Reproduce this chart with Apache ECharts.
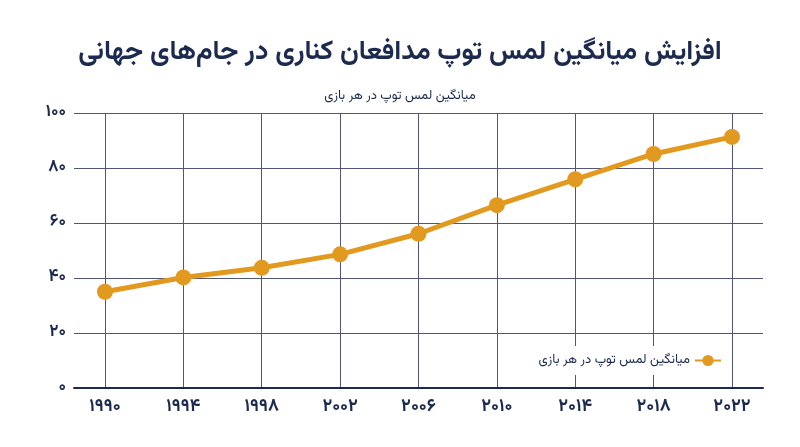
<!DOCTYPE html>
<html>
<head>
<meta charset="utf-8">
<script src="https://cdn.jsdelivr.net/npm/echarts@6/dist/echarts.min.js"></script>
<style>
html,body{margin:0;padding:0;background:#fff;}
#c{width:800px;height:447px;}
</style>
</head>
<body>
<div id="c"></div>
<script>
var years = [1990, 1994, 1998, 2002, 2006, 2010, 2014, 2018, 2022];
var yearLabels = ['۱۹۹۰','۱۹۹۴','۱۹۹۸','۲۰۰۲','۲۰۰۶','۲۰۱۰','۲۰۱۴','۲۰۱۸','۲۰۲۲'];
var touches = [35, 40.2, 43.7, 48.6, 56.1, 66.5, 75.9, 85.1, 91.3];
var yTicks = [0, 20, 40, 60, 80, 100];
var yTickLabels = ['۰','۲۰','۴۰','۶۰','۸۰','۱۰۰'];
var seriesName = 'میانگین لمس توپ در هر بازی';
var titleText = 'افزایش میانگین لمس توپ مدافعان کناری در جام‌های جهانی';
var subtitleText = 'میانگین لمس توپ در هر بازی';

var FONT = "Vazirmatn, 'Noto Sans Arabic', 'Noto Naskh Arabic', 'DejaVu Sans', sans-serif";
var NAVY = '#1b2a4e';
var ORANGE = '#e2991f';

var chart = echarts.init(document.getElementById('c'));
var data = years.map(function (y, i) { return [y, touches[i]]; });
chart.setOption({
  backgroundColor: '#fff',
  textStyle: { fontFamily: FONT },
  title: [{
    text: titleText,
    left: 'center', top: 36,
    textStyle: { fontFamily: FONT, fontSize: 27, fontWeight: 'bold', color: NAVY }
  }, {
    text: subtitleText,
    left: 'center', top: 85,
    textStyle: { fontFamily: FONT, fontSize: 13, fontWeight: 'normal', color: NAVY }
  }],
  legend: {
    right: 72, top: 346,
    align: 'right',
    backgroundColor: '#fff',
    padding: [8, 6, 8, 10],
    itemWidth: 26, itemHeight: 14,
    textStyle: { fontFamily: FONT, fontSize: 13, color: NAVY },
    data: [seriesName]
  },
  grid: { left: 74, right: 37, top: 113, bottom: 59, containLabel: false },
  xAxis: {
    type: 'value',
    min: 1988.418, max: 2023.582,
    axisLine: { show: true, lineStyle: { color: NAVY, width: 2 } },
    axisTick: { show: false, customValues: years },
    axisLabel: {
      customValues: years,
      margin: 11,
      fontFamily: FONT, fontSize: 18, fontWeight: 'bold', color: NAVY,
      formatter: function (v) { var i = years.indexOf(v); return i >= 0 ? yearLabels[i] : ''; }
    },
    splitLine: { show: true, lineStyle: { color: '#4f5677', width: 1 } }
  },
  yAxis: {
    type: 'value',
    min: 0, max: 100, interval: 20,
    axisLine: { show: false },
    axisTick: { show: false },
    axisLabel: {
      margin: 8,
      fontFamily: FONT, fontSize: 17, fontWeight: 'bold', color: NAVY,
      formatter: function (v) { var i = yTicks.indexOf(v); return i >= 0 ? yTickLabels[i] : ''; }
    },
    splitLine: { show: true, lineStyle: { color: '#4f5677', width: 1 } }
  },
  series: [{
    name: seriesName,
    type: 'line',
    data: data,
    symbol: 'circle',
    symbolSize: 16,
    lineStyle: { color: ORANGE, width: 5 },
    itemStyle: { color: ORANGE },
    z: 5
  }]
});
</script>
</body>
</html>
